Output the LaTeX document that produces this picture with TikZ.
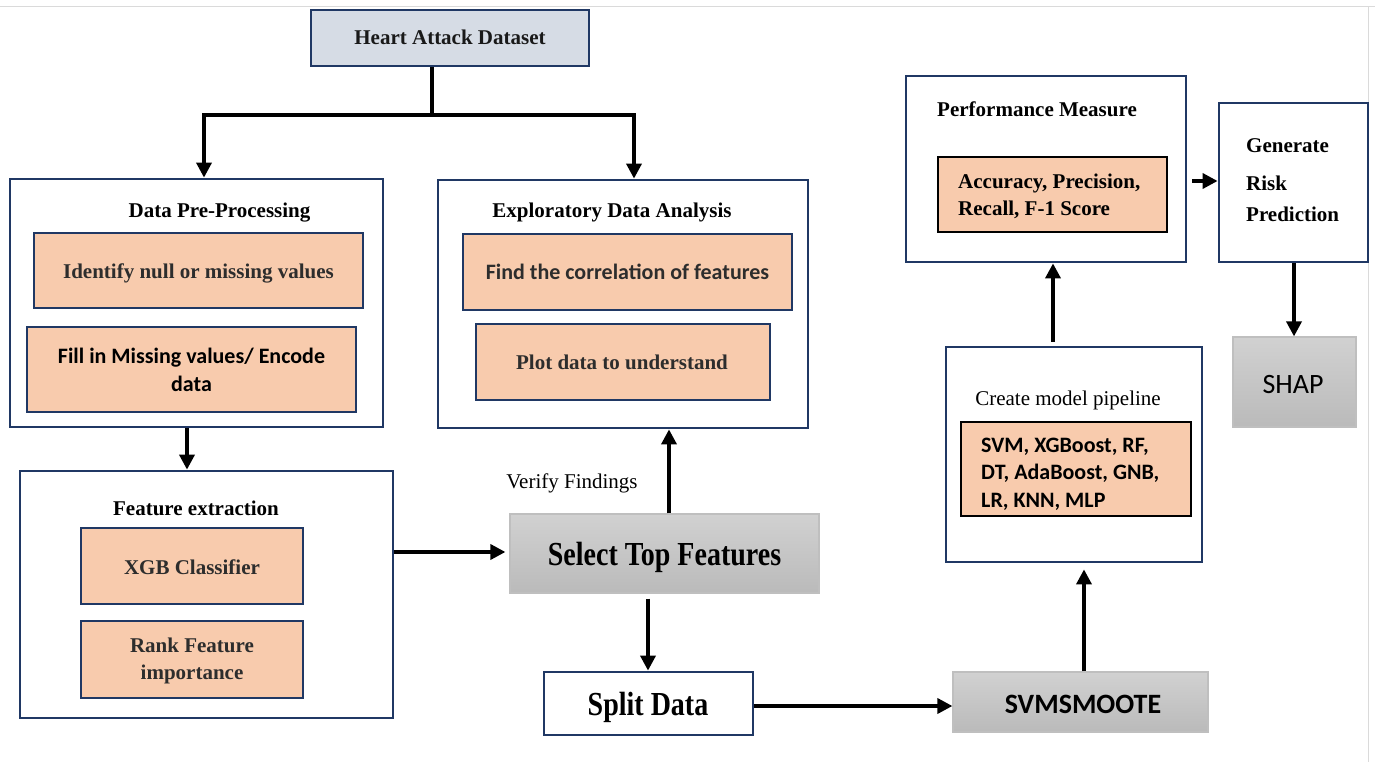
\documentclass[tikz,border=0pt]{standalone}
\usepackage{fontspec}
\usepackage{graphicx}
\setmainfont{Liberation Serif}
\newfontfamily\calfont{Carlito}
\usetikzlibrary{arrows.meta}
\definecolor{navy}{RGB}{32,56,100}
\definecolor{peach}{RGB}{248,203,173}
\definecolor{paleblue}{RGB}{214,220,229}
\definecolor{txtgray}{RGB}{45,45,45}
\definecolor{pageline}{RGB}{218,218,218}
\begin{document}
\begin{tikzpicture}[x=1pt,y=-1pt,
  outerbox/.style={draw=navy,line width=2.8pt,fill=white,inner sep=0pt},
  peachbox/.style={draw=navy,line width=2.4pt,fill=peach,inner sep=0pt},
  peachthin/.style={draw=black,line width=1.2pt,fill=peach,inner sep=0pt},
  graybox/.style={draw=black!25,line width=1.2pt,top color=black!18,bottom color=black!27,inner sep=0pt},
  serifb/.style={font=\fontsize{21}{27}\selectfont\bfseries,inner sep=0pt},
  serifr/.style={font=\fontsize{21}{27}\selectfont,inner sep=0pt},
  calb/.style={font=\calfont\fontsize{22}{27.5}\selectfont\bfseries,inner sep=0pt},
  arr/.style={line width=3.5pt,-{Triangle[length=15pt,width=15pt]}},
]
\useasboundingbox (0,0) rectangle (1375,762);
% page edges
\draw[pageline,line width=1pt] (0,7) -- (1375,7);
\draw[pageline,line width=1pt] (1368,7) -- (1368,762);

% Heart Attack Dataset
\node[draw=navy,line width=2.8pt,fill=paleblue,inner sep=0pt,minimum width=278pt,minimum height=56pt] (heart) at (450,38) {};
\node[serifb,anchor=base,text=black!90] (heartt) at (450,45) {Heart Attack Dataset};

% Data Pre-Processing
\node[outerbox,minimum width=373pt,minimum height=248pt] (dpp) at (196.5,303) {};
\node[serifb,anchor=base] (dppt) at (219.5,218) {Data Pre-Processing};
\node[peachbox,minimum width=329pt,minimum height=75pt] (ident) at (198.5,270.5) {};
\node[serifb,anchor=base,text=txtgray] (identt) at (198.5,278) {Identify null or missing values};
\node[peachbox,minimum width=329pt,minimum height=85pt] (fill) at (191.5,369.5) {};
\node[calb,anchor=base,align=center,font=\calfont\fontsize{22}{28}\selectfont\bfseries] (fillt) at (191.5,391) {Fill in Missing values/ Encode\\data};

% Exploratory Data Analysis
\node[outerbox,minimum width=370pt,minimum height=248pt] (eda) at (623,304) {};
\node[serifb,anchor=base] (edat) at (612,218) {Exploratory Data Analysis};
\node[peachbox,minimum width=329pt,minimum height=76pt] (corr) at (627.5,272) {};
\node[calb,anchor=base,text=txtgray] (corrt) at (627.5,279) {Find the correlation of features};
\node[peachbox,minimum width=294pt,minimum height=76pt] (plot) at (623,362) {};
\node[serifb,anchor=base,text=txtgray] (plott) at (622,369) {Plot data to understand};

% Feature extraction
\node[outerbox,minimum width=373pt,minimum height=247pt] (fe) at (206.5,594.5) {};
\node[serifb,anchor=base] (fet) at (196,515) {Feature extraction};
\node[peachbox,minimum width=222pt,minimum height=76pt] (xgb) at (192,566) {};
\node[serifb,anchor=base,text=txtgray] (xgbt) at (192,574) {XGB Classifier};
\node[peachbox,minimum width=222pt,minimum height=77pt] (rank) at (192,659.5) {};
\node[serifb,anchor=base,align=center,text=txtgray] (rankt) at (192,679) {Rank Feature\\importance};

% Select Top Features
\node[graybox,minimum width=309pt,minimum height=79pt] (stf) at (664.5,553.5) {};
\node[inner sep=0pt,anchor=base] (stft) at (664.5,565) {\scalebox{1}[1.2]{\fontsize{28}{30}\selectfont\bfseries Select Top Features}};
\node[serifr,anchor=base] (verify) at (572,488) {Verify Findings};

% Split Data
\node[outerbox,minimum width=209pt,minimum height=63pt] (split) at (648.5,703.5) {};
\node[inner sep=0pt,anchor=base] (splitt) at (648,715) {\scalebox{1}[1.2]{\fontsize{28}{30}\selectfont\bfseries Split Data}};

% SVMSMOOTE
\node[graybox,minimum width=255pt,minimum height=60pt] (smote) at (1080.5,702) {};
\node[inner sep=0pt,anchor=base,font=\calfont\fontsize{28}{30}\selectfont\bfseries] (smotet) at (1083,713) {SVMSMOOTE};

% Create model pipeline
\node[outerbox,minimum width=256pt,minimum height=215pt] (cmp) at (1074,454.5) {};
\node[serifr,anchor=base] (cmpt) at (1068,405) {Create model pipeline};
\node[peachthin,minimum width=230pt,minimum height=94pt] (models) at (1076,469) {};
\node[calb,anchor=base west,align=left] (modelst) at (981,507) {SVM, XGBoost, RF,\\DT, AdaBoost, GNB,\\LR, KNN, MLP};

% Performance Measure
\node[outerbox,minimum width=280pt,minimum height=186pt] (perf) at (1046,169) {};
\node[serifb,anchor=base west] (perft) at (937,117) {Performance Measure};
\node[peachthin,minimum width=229pt,minimum height=75pt] (acc) at (1052.5,194.5) {};
\node[serifb,anchor=base west,align=left] (acct) at (958,215) {Accuracy, Precision,\\Recall, F-1 Score};

% Generate Risk Prediction
\node[outerbox,minimum width=149pt,minimum height=159pt] (gen) at (1293.5,182.5) {};
\node[serifb,anchor=base west] (gen1) at (1246,153) {Generate};
\node[serifb,anchor=base west] (gen2) at (1246,190) {Risk};
\node[serifb,anchor=base west] (gen3) at (1246,221) {Prediction};

% SHAP
\node[graybox,minimum width=123pt,minimum height=90pt] (shap) at (1294.5,382) {};
\node[inner sep=0pt,anchor=base,font=\calfont\fontsize{28}{30}\selectfont] (shapt) at (1293,393) {SHAP};

% lane coordinates
\coordinate (j) at (432,115);
\coordinate (jl) at (204,115);
\coordinate (jr) at (634,115);
\coordinate (x187) at (187,0);
\coordinate (y552) at (0,552);
\coordinate (x669) at (669,0);
\coordinate (x648) at (648,0);
\coordinate (y706) at (0,706);
\coordinate (x1084) at (1084,0);
\coordinate (x1053) at (1053,0);
\coordinate (y181) at (0,181);
\coordinate (x1294) at (1294,0);

% connectors
\draw[line width=3.5pt] (heart.south -| j) -- (j);
\draw[arr] (j) -- (jl) -- (jl |- dpp.north);
\draw[arr] (j) -- (jr) -- (jr |- eda.north);
\draw[arr] (dpp.south -| x187) -- (fe.north -| x187);
\draw[arr,shorten >=4pt] (fe.east |- y552) -- (stf.west |- y552);
\draw[arr] (stf.north -| x669) -- (eda.south -| x669);
\draw[arr,shorten <=5pt] (stf.south -| x648) -- (split.north -| x648);
\draw[arr] (split.east |- y706) -- (smote.west |- y706);
\draw[arr,shorten >=6pt] (smote.north -| x1084) -- (cmp.south -| x1084);
\draw[arr,shorten <=4pt] (cmp.north -| x1053) -- (perf.south -| x1053);
\draw[arr,shorten <=5pt] (perf.east |- y181) -- (gen.west |- y181);
\draw[arr] (gen.south -| x1294) -- (shap.north -| x1294);
\end{tikzpicture}
\end{document}
